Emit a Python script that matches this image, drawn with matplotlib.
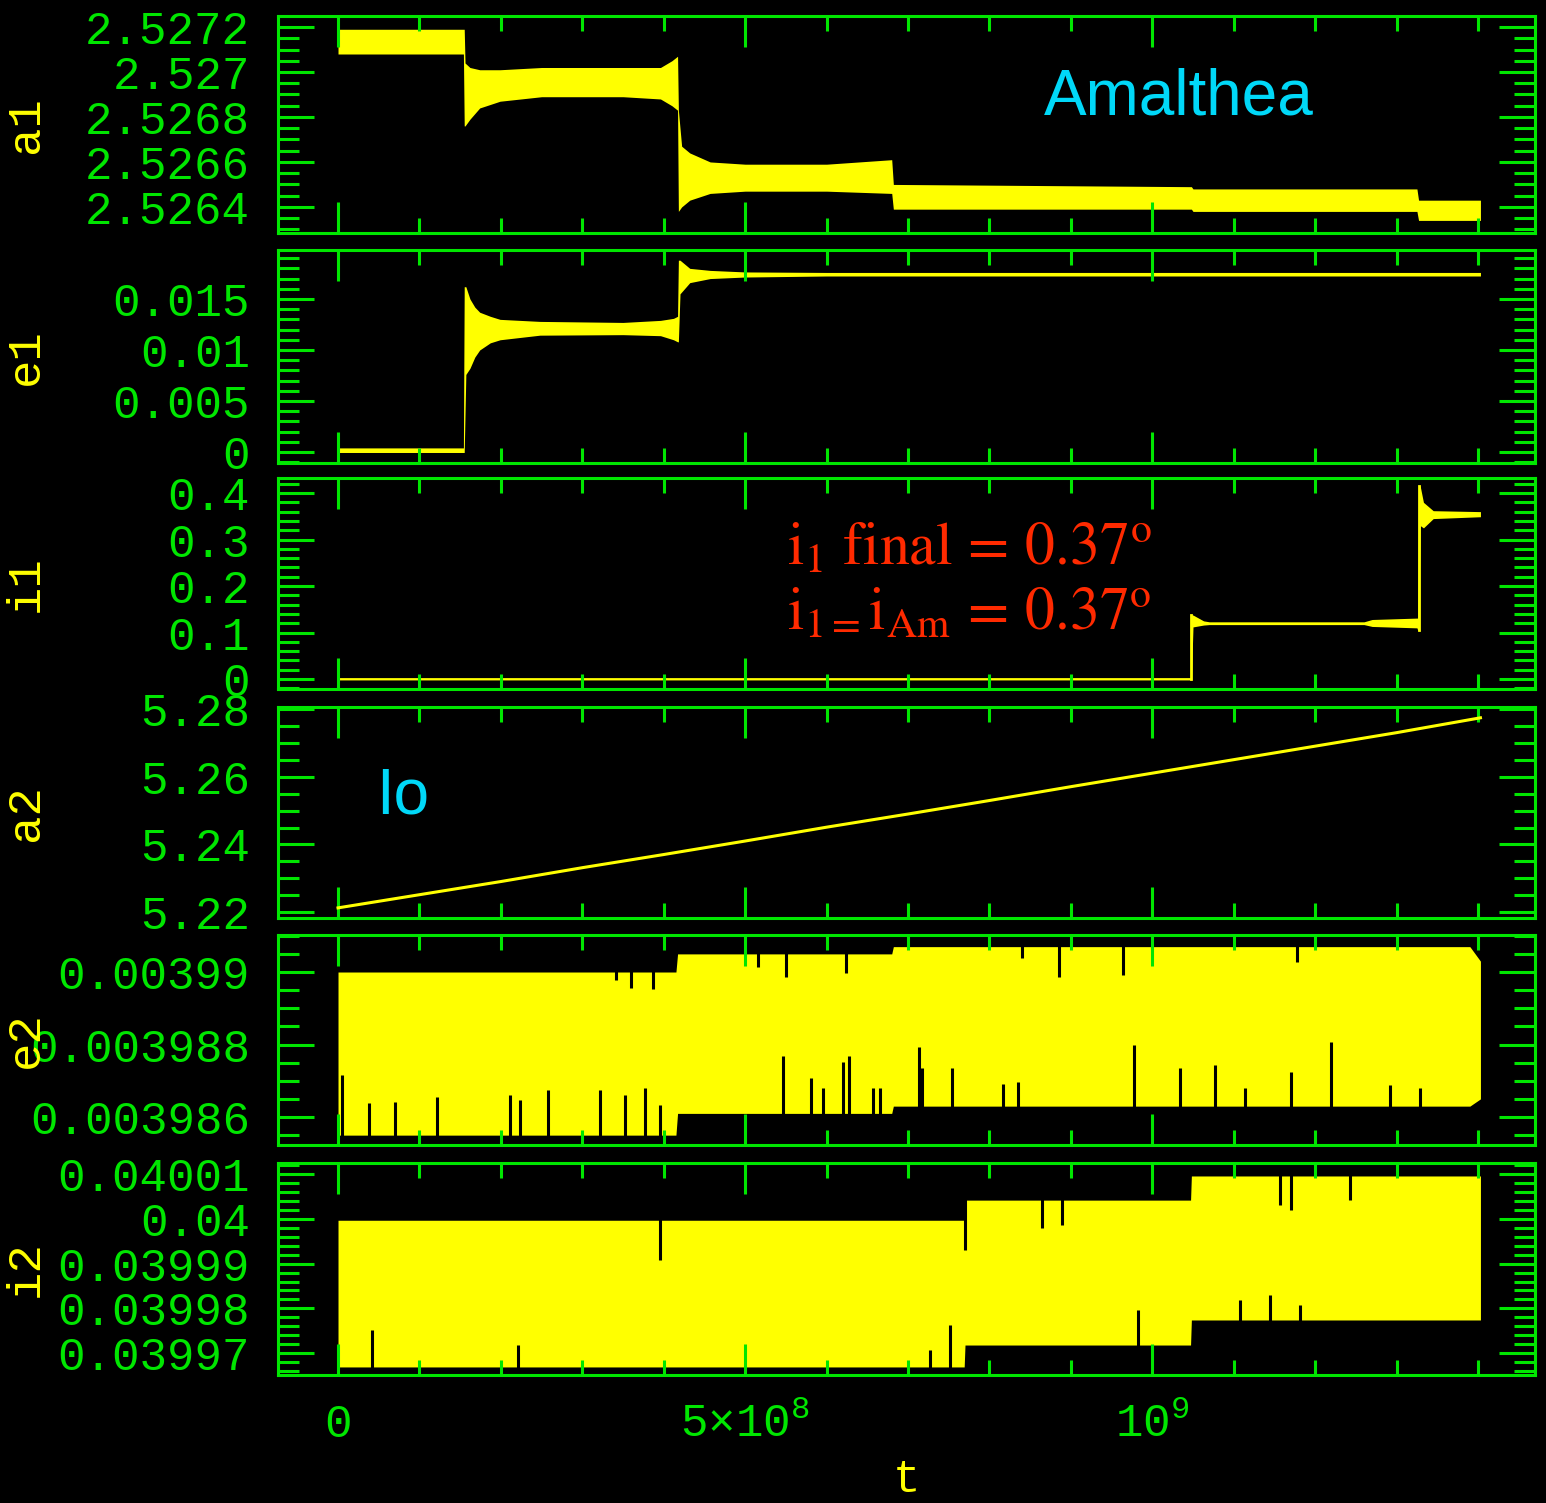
import matplotlib
matplotlib.use("Agg")
import matplotlib.pyplot as plt
import numpy as np
from matplotlib.ticker import FixedLocator, MultipleLocator

# time in units of 1e8 yr
a1_t = [0, 1.54, 1.55, 1.56, 1.62, 1.74, 1.99, 2.5, 3.5, 3.96, 4.10, 4.17, 4.18, 4.22, 4.32, 4.57,
        5.0, 6.0, 6.80, 6.82, 10.48, 10.50, 13.25, 13.27, 14.03]
a1_lo = [2.52708, 2.52708, 2.52676, 2.52676, 2.52679, 2.52684, 2.52687, 2.52689, 2.52689, 2.52688,
         2.52685, 2.52683, 2.52638, 2.52640, 2.52643, 2.52646, 2.52647, 2.52647, 2.52646, 2.52639,
         2.52639, 2.52638, 2.52638, 2.52634, 2.52634]
a1_hi = [2.52719, 2.52719, 2.52719, 2.52704, 2.52702, 2.52701, 2.52701, 2.52702, 2.52702, 2.52702,
         2.52705, 2.52707, 2.52683, 2.52667, 2.52664, 2.52660, 2.52659, 2.52659, 2.52661, 2.52650,
         2.52649, 2.52648, 2.52648, 2.52643, 2.52643]

e1_t = [0, 1.54, 1.55, 1.57, 1.62, 1.68, 1.74, 1.87, 1.99, 2.48, 3.5, 3.96, 4.12, 4.17, 4.18, 4.20,
        4.32, 4.57, 5.0, 6.0, 14.03]
e1_lo = [-0.00005, -0.00005, -0.00005, 0.0076, 0.0082, 0.0093, 0.0100, 0.0107, 0.0110, 0.01145,
         0.0115, 0.0114, 0.0110, 0.0108, 0.0108, 0.0155, 0.0166, 0.0170, 0.01715, 0.01725, 0.01725]
e1_hi = [0.0004, 0.0004, 0.0162, 0.0162, 0.0150, 0.0142, 0.0137, 0.0133, 0.0130, 0.0128,
         0.0127, 0.0129, 0.0131, 0.0133, 0.0188, 0.0188, 0.0180, 0.0178, 0.01765, 0.0176, 0.0176]

i1_t = [0, 10.47, 10.48, 10.50, 10.63, 10.70, 12.6, 12.7, 13.25, 13.26, 13.27, 13.29, 13.33, 13.45, 14.03]
i1_lo = [-0.002, -0.002, -0.002, 0.112, 0.116, 0.117, 0.117, 0.113, 0.110, 0.105, 0.105, 0.33,
         0.325, 0.345, 0.349]
i1_hi = [0.003, 0.003, 0.1376, 0.1376, 0.125, 0.123, 0.123, 0.128, 0.131, 0.131, 0.415, 0.415,
         0.38, 0.362, 0.360]

a2_t = [0, 1, 2, 3, 4, 5, 6, 7, 8, 9, 10, 11, 12, 13, 14.03]
a2_val = [5.2212, 5.2251, 5.2290, 5.2331, 5.2370, 5.2410, 5.2451, 5.2490, 5.2530, 5.2571,
          5.2611, 5.2651, 5.2691, 5.2731, 5.2775]

e2_t = [0, 4.15, 4.17, 6.80, 6.82, 13.9, 14.03]
e2_lo = [0.0039855, 0.0039855, 0.0039861, 0.0039861, 0.0039863, 0.0039863, 0.0039865]
e2_hi = [0.0039900, 0.0039900, 0.0039905, 0.0039905, 0.0039907, 0.0039907, 0.0039903]
e2_spike_t = [0.05, 0.38, 0.70, 1.22, 2.11, 2.24, 2.58, 3.22, 3.53, 3.77, 3.96, 5.47, 5.81, 5.96,
              6.20, 6.28, 6.57, 6.66, 7.13, 7.17, 7.54, 8.17, 8.35, 9.77, 10.34, 10.77, 11.14,
              11.70, 12.19, 12.92, 13.29]
e2_spike_top = [0.00398716, 0.00398639, 0.00398641, 0.00398655, 0.00398661, 0.00398647, 0.00398674,
                0.00398674, 0.00398661, 0.00398680, 0.00398633, 0.00398768, 0.00398708, 0.00398680,
                0.00398752, 0.00398768, 0.00398680, 0.00398680, 0.00398793, 0.00398735, 0.00398735,
                0.00398691, 0.00398697, 0.00398799, 0.00398735, 0.00398743, 0.00398680, 0.00398724,
                0.00398807, 0.00398688, 0.00398680]
e2_dip_t = [3.42, 3.60, 3.87, 5.16, 5.50, 6.24, 8.40, 8.85, 9.64, 11.78]
e2_dip_bot = [0.00398978, 0.00398956, 0.00398953, 0.00399014, 0.00398986, 0.00398997, 0.00399039,
              0.00398986, 0.00398992, 0.00399028]

i2_t = [0, 7.69, 7.70, 10.47, 10.48, 14.03]
i2_lo = [0.0399669, 0.0399669, 0.0399718, 0.0399718, 0.0399774, 0.0399774]
i2_hi = [0.0399997, 0.0399997, 0.0400042, 0.0400042, 0.0400096, 0.0400096]
i2_spike_t = [0.42, 2.21, 7.27, 7.52, 9.82, 11.08, 11.45, 11.82]
i2_spike_top = [0.0399751, 0.0399718, 0.0399707, 0.0399763, 0.0399796, 0.0399818, 0.0399830, 0.0399807]
i2_dip_t = [3.96, 7.70, 8.65, 8.89, 11.57, 11.70, 12.43]
i2_dip_bot = [0.0399908, 0.0399930, 0.0399979, 0.0399986, 0.0400031, 0.0400020, 0.0400042]

# y ticks per panel
a1_ticks = [2.5264, 2.5266, 2.5268, 2.527, 2.5272]
a1_labels = ['2.5264', '2.5266', '2.5268', '2.527', '2.5272']
e1_ticks = [0, 0.005, 0.01, 0.015]
e1_labels = ['0', '0.005', '0.01', '0.015']
i1_ticks = [0, 0.1, 0.2, 0.3, 0.4]
i1_labels = ['0', '0.1', '0.2', '0.3', '0.4']
a2_ticks = [5.22, 5.24, 5.26, 5.28]
a2_labels = ['5.22', '5.24', '5.26', '5.28']
e2_ticks = [0.003986, 0.003988, 0.00399]
e2_labels = ['0.003986', '0.003988', '0.00399']
i2_ticks = [0.03997, 0.03998, 0.03999, 0.04, 0.04001]
i2_labels = ['0.03997', '0.03998', '0.03999', '0.04', '0.04001']
x_ticks = [0, 5e8, 1e9]
x_labels = ['0', '5×10$^8$', '10$^9$']

GREEN = '#00e600'
YELLOW = '#ffff00'
CYAN = '#00d8f8'
RED = '#ff2a00'
MONO = 'Liberation Mono'

plt.rcParams['mathtext.fontset'] = 'custom'
plt.rcParams['mathtext.rm'] = MONO

W, H = 1546, 1503
fig = plt.figure(figsize=(W / 100, H / 100), dpi=100, facecolor='black')

panels_px = [(16, 233), (250, 463), (478, 689), (707, 918), (935, 1145), (1163, 1375)]
left_px, right_px = 278, 1535

ylims = [(2.526284, 2.527249), (-0.00108, 0.0198), (-0.0215, 0.4323),
         (5.2182, 5.2807), (0.003985228, 0.003991021), (0.0399651, 0.0400125)]
yticks = [(a1_ticks, a1_labels), (e1_ticks, e1_labels), (i1_ticks, i1_labels),
          (a2_ticks, a2_labels), (e2_ticks, e2_labels), (i2_ticks, i2_labels)]
yminor = [0.00005, 0.001, 0.02, 0.005, 0.0000005, 0.000002]
names = ['a1', 'e1', 'i1', 'a2', 'e2', 'i2']

axes = []
for k, (top, bot) in enumerate(panels_px):
    ax = fig.add_axes([left_px / W, 1 - bot / H, (right_px - left_px) / W, (bot - top) / H])
    ax.set_facecolor('black')
    ax.set_xlim(-0.737e8, 14.7e8)
    ax.set_ylim(*ylims[k])
    for sp in ax.spines.values():
        sp.set_color(GREEN)
        sp.set_linewidth(2.2)
    ax.xaxis.set_major_locator(FixedLocator(x_ticks))
    ax.xaxis.set_minor_locator(MultipleLocator(1e8))
    ax.yaxis.set_major_locator(FixedLocator(yticks[k][0]))
    ax.set_yticklabels(yticks[k][1])
    ax.yaxis.set_minor_locator(MultipleLocator(yminor[k]))
    ax.tick_params(axis='both', which='both', direction='in', colors=GREEN, width=2.2,
                   top=True, right=True, labelsize=33, pad=20)
    ax.tick_params(axis='x', which='major', length=22)
    ax.tick_params(axis='x', which='minor', length=11)
    ax.tick_params(axis='y', which='major', length=26)
    ax.tick_params(axis='y', which='minor', length=15)
    for lab in ax.get_yticklabels():
        lab.set_family(MONO)
    ax.set_ylabel(names[k], color=YELLOW, fontsize=34, family=MONO)
    ax.yaxis.set_label_coords(-0.183, 0.5)
    if k < 5:
        ax.tick_params(axis='x', labelbottom=False)
    axes.append(ax)

t8 = lambda v: np.array(v) * 1e8

ax1, ax2, ax3, ax4, ax5, ax6 = axes
ax1.fill_between(t8(a1_t), a1_lo, a1_hi, color=YELLOW, lw=0)
ax2.fill_between(t8(e1_t), e1_lo, e1_hi, color=YELLOW, lw=0)
ax3.fill_between(t8(i1_t), i1_lo, i1_hi, color=YELLOW, lw=0)
ax3.plot(t8([10.48, 10.48]), [0, 0.1376], color=YELLOW, lw=2)
ax3.plot(t8([13.27, 13.27]), [0.105, 0.415], color=YELLOW, lw=2)
ax4.plot(t8(a2_t), a2_val, color=YELLOW, lw=2.2)

ax5.fill_between(t8(e2_t), e2_lo, e2_hi, color=YELLOW, lw=0)
ax5.vlines(t8(e2_spike_t), ylims[4][0], e2_spike_top, color='black', lw=2.2)
ax5.vlines(t8(e2_dip_t), e2_dip_bot, ylims[4][1], color='black', lw=2.2)

ax6.fill_between(t8(i2_t), i2_lo, i2_hi, color=YELLOW, lw=0)
ax6.vlines(t8(i2_spike_t), ylims[5][0], i2_spike_top, color='black', lw=2.2)
ax6.vlines(t8(i2_dip_t), i2_dip_bot, ylims[5][1], color='black', lw=2.2)

ax6.set_xticklabels(x_labels)
for lab in ax6.get_xticklabels():
    lab.set_family(MONO)
ax6.set_xlabel('t', color=YELLOW, fontsize=33, family=MONO)
ax6.xaxis.set_label_coords(0.5, -0.39)

# annotations
ax1.text(0.609, 0.544, 'Amalthea', transform=ax1.transAxes, color=CYAN, fontsize=46,
         family='Liberation Sans', ha='left', va='baseline')
ax4.text(0.078, 0.4976, 'Io', transform=ax4.transAxes, color=CYAN, fontsize=46,
         family='Liberation Sans', ha='left', va='baseline')
ax3.text(0.405, 0.5877, r'$\mathrm{i_1\ final\,=\,0.37^{o}}$', transform=ax3.transAxes,
         color=RED, fontsize=43, math_fontfamily='stix', ha='left', va='baseline')
ax3.text(0.405, 0.2796, r'$\mathrm{i_{1=}i_{Am}\,=\,0.37^{o}}$',
         transform=ax3.transAxes, color=RED, fontsize=43, math_fontfamily='stix',
         ha='left', va='baseline')

fig.savefig('out.png', dpi=100, facecolor='black')
